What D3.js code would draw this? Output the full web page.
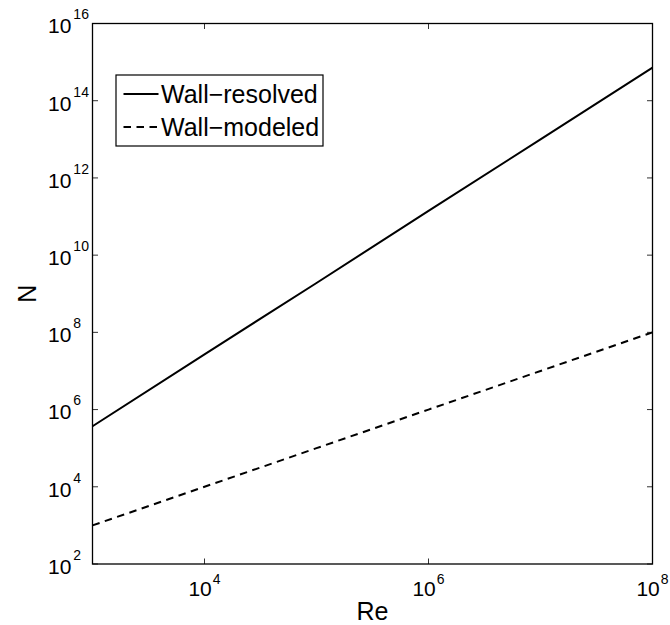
<!DOCTYPE html>
<html><head><meta charset="utf-8">
<script src="https://cdn.jsdelivr.net/npm/d3@7"></script>
<style>body{margin:0;background:#fff}svg{display:block}text{font-family:"Liberation Sans",Arial,Helvetica,sans-serif;fill:#000}</style>
</head><body><svg id="c" width="670" height="625"></svg>
<script>
const re = [1e3, 1e4, 1e5, 1e6, 1e7, 1e8];
const wallResolved = [3.7e5, 2.7e7, 1.9e9, 1.4e11, 1.0e13, 7.2e14];
const wallModeled = [1e3, 1e4, 1e5, 1e6, 1e7, 1e8];
const xTickExp = [4, 6, 8];
const yTickExp = [2, 4, 6, 8, 10, 12, 14, 16];
const seriesNames = ["Wall\u2212resolved", "Wall\u2212modeled"];

const L = 92.5, R = 652.5, T = 23.5, B = 564;
const svg = d3.select("#c");
const x = d3.scaleLog().domain([1e3, 1e8]).range([L, R]);
const y = d3.scaleLog().domain([1e2, 1e16]).range([B, T]);

// ticks (inward, all four sides)
const tk = svg.append("g").attr("stroke", "#333").attr("stroke-width", 1);
yTickExp.forEach(e => {
  const yy = y(Math.pow(10, e));
  tk.append("line").attr("x1", L).attr("x2", L + 5.5).attr("y1", yy).attr("y2", yy);
  tk.append("line").attr("x1", R).attr("x2", R - 5.5).attr("y1", yy).attr("y2", yy);
});
xTickExp.forEach(e => {
  const xx = x(Math.pow(10, e));
  tk.append("line").attr("x1", xx).attr("x2", xx).attr("y1", B).attr("y2", B - 5.5);
  tk.append("line").attr("x1", xx).attr("x2", xx).attr("y1", T).attr("y2", T + 5.5);
});

// lines
const line = d3.line().x(d => x(d[0])).y(d => y(d[1]));
svg.append("path").datum(re.map((r, i) => [r, wallResolved[i]]))
  .attr("d", line).attr("fill", "none").attr("stroke", "#000").attr("stroke-width", 2);
svg.append("path").datum(re.map((r, i) => [r, wallModeled[i]]))
  .attr("d", line).attr("fill", "none").attr("stroke", "#000").attr("stroke-width", 2)
  .attr("stroke-dasharray", "7.5,5.5");

// frame
svg.append("rect").attr("x", L).attr("y", T).attr("width", R - L).attr("height", B - T)
  .attr("fill", "none").attr("stroke", "#000").attr("stroke-width", 1.3);

// y tick labels
yTickExp.forEach(e => {
  const yy = y(Math.pow(10, e));
  const t = svg.append("text").attr("x", 48).attr("y", yy + 9.8).attr("font-size", 21);
  t.append("tspan").text("10");
  t.append("tspan").attr("dx", 2).attr("dy", -14).attr("font-size", 14).text(e);
});
// x tick labels
xTickExp.forEach(e => {
  const xx = x(Math.pow(10, e));
  const t = svg.append("text").attr("x", xx).attr("y", B + 32).attr("font-size", 21).attr("text-anchor", "middle");
  t.append("tspan").text("10");
  t.append("tspan").attr("dx", 1).attr("dy", -12).attr("font-size", 14).text(e);
});

// axis labels
svg.append("text").attr("x", (L + R) / 2).attr("y", 620).attr("text-anchor", "middle").attr("font-size", 25).text("Re");
svg.append("text").attr("transform", `translate(35.7,${(T + B) / 2}) rotate(-90)`).attr("text-anchor", "middle").attr("font-size", 25).text("N");

// legend
const lg = svg.append("g");
lg.append("rect").attr("x", 116).attr("y", 75).attr("width", 207).attr("height", 71)
  .attr("fill", "#fff").attr("stroke", "#000").attr("stroke-width", 1.2);
const rows = [94, 127];
rows.forEach((ry, i) => {
  lg.append("line").attr("x1", 123.5).attr("x2", 158.5).attr("y1", ry).attr("y2", ry)
    .attr("stroke", "#000").attr("stroke-width", 2)
    .attr("stroke-dasharray", i === 1 ? "7.5,5.5" : null);
  lg.append("text").attr("x", 161).attr("y", ry + 8.5).attr("font-size", 25).text(seriesNames[i]);
});
</script></body></html>
